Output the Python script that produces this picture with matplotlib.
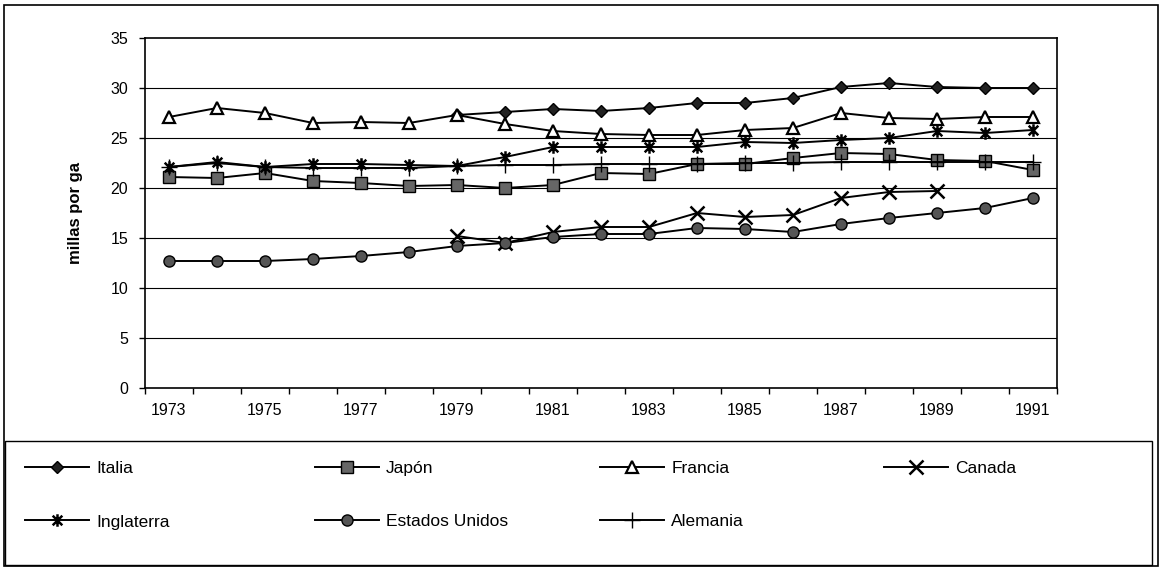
import numpy as np
import matplotlib
matplotlib.use("Agg")
import matplotlib.pyplot as plt
from matplotlib.path import Path
from matplotlib.patches import Rectangle

plt.rcParams['font.family'] = ['Liberation Sans', 'DejaVu Sans']

nan = np.nan
years = list(range(1973, 1992))

italia = [nan, nan, nan, nan, nan, nan, 27.3, 27.6, 27.9, 27.7, 28.0, 28.5, 28.5, 29.0, 30.1, 30.5, 30.1, 30.0, 30.0]
japon = [21.1, 21.0, 21.5, 20.7, 20.5, 20.2, 20.3, 20.0, 20.3, 21.5, 21.4, 22.4, 22.4, 23.0, 23.5, 23.4, 22.8, 22.7, 21.8]
francia = [27.1, 28.0, 27.5, 26.5, 26.6, 26.5, 27.3, 26.4, 25.7, 25.4, 25.3, 25.3, 25.8, 26.0, 27.5, 27.0, 26.9, 27.1, 27.1]
canada = [nan, nan, nan, nan, nan, nan, 15.2, 14.5, 15.6, 16.1, 16.1, 17.5, 17.1, 17.3, 19.0, 19.6, 19.7, nan, nan]
inglaterra = [22.1, 22.6, 22.1, 22.4, 22.4, 22.3, 22.2, 23.1, 24.1, 24.1, 24.1, 24.1, 24.6, 24.5, 24.8, 25.0, 25.7, 25.5, 25.8]
estados_unidos = [12.7, 12.7, 12.7, 12.9, 13.2, 13.6, 14.2, 14.5, 15.1, 15.4, 15.4, 16.0, 15.9, 15.6, 16.4, 17.0, 17.5, 18.0, 19.0]
alemania = [22.1, 22.5, 22.1, 22.0, 22.0, 22.0, 22.2, 22.3, 22.3, 22.4, 22.4, 22.4, 22.5, 22.5, 22.6, 22.6, 22.6, 22.6, 22.6]

y_ticks = [0, 5, 10, 15, 20, 25, 30, 35]

# excel style asterisk: x plus a vertical bar
asterisk = Path([(-1, -1), (1, 1), (-1, 1), (1, -1), (0, -1.3), (0, 1.3)],
                [Path.MOVETO, Path.LINETO, Path.MOVETO, Path.LINETO, Path.MOVETO, Path.LINETO])

series = [
    ("Italia", italia, dict(marker="D", markersize=6, markerfacecolor="#222222")),
    ("Japón", japon, dict(marker="s", markersize=8, markerfacecolor="#666666")),
    ("Francia", francia, dict(marker="^", markersize=9, markerfacecolor="white", markeredgewidth=1.6)),
    ("Canada", canada, dict(marker="x", markersize=10, markeredgewidth=1.8)),
    ("Inglaterra", inglaterra, dict(marker=asterisk, markersize=9, markeredgewidth=1.8)),
    ("Estados Unidos", estados_unidos, dict(marker="o", markersize=8, markerfacecolor="#555555")),
    ("Alemania", alemania, dict(marker="+", markersize=11, markeredgewidth=1.0)),
]

fig = plt.figure(figsize=(11.62, 5.68), dpi=100)
W, H = 1162, 568
ax = fig.add_axes([145 / W, 1 - 388 / H, (1057 - 145) / W, (388 - 38) / H])

x = np.arange(len(years))
handles = {}
for name, vals, style in series:
    line, = ax.plot(x, vals, color="black", linewidth=1.4, markeredgecolor="black", **style)
    handles[name] = line

ax.set_xlim(-0.5, len(years) - 0.5)
ax.set_ylim(0, 35)
ax.set_yticks(y_ticks)
for v in y_ticks[1:-1]:
    ax.axhline(v, color="black", linewidth=0.8, zorder=0)

# category axis: ticks between years, labels every other year
ax.set_xticks(np.arange(-0.5, len(years), 1.0))
ax.set_xticklabels([])
ax.set_xticks(x[::2], minor=True)
ax.set_xticklabels([str(y) for y in years[::2]], minor=True)
ax.tick_params(axis="x", which="major", direction="out", length=4, width=1)
ax.tick_params(axis="x", which="minor", length=0, pad=11, labelsize=11.5)
ax.tick_params(axis="y", direction="out", length=4, width=1, pad=8, labelsize=11.5)

for s in ax.spines.values():
    s.set_linewidth(1.2)

ax.set_ylabel("millas por ga", fontsize=12, fontweight="bold", labelpad=20)

# outer frame and legend frame
fig.patches.append(Rectangle((4 / W, 1 - 566 / H), (1158 - 4) / W, (566 - 5) / H,
                             transform=fig.transFigure, fill=False, edgecolor="black", linewidth=1.2))
fig.patches.append(Rectangle((5 / W, 1 - 565 / H), (1152 - 5) / W, (565 - 441) / H,
                             transform=fig.transFigure, fill=False, edgecolor="black", linewidth=1.0))

columns = [
    (25, ["Italia", "Inglaterra"]),
    (315, ["Japón", "Estados Unidos"]),
    (600, ["Francia", "Alemania"]),
    (884, ["Canada"]),
]
for xpos, names in columns:
    leg = fig.legend([handles[n] for n in names], names, loc="upper left",
                     bbox_to_anchor=(xpos / W, 1 - 461 / H), frameon=False,
                     fontsize=12.5, handlelength=3.7, handletextpad=0.4,
                     labelspacing=2.2, borderpad=0, borderaxespad=0)

fig.savefig("out.png", dpi=100)
